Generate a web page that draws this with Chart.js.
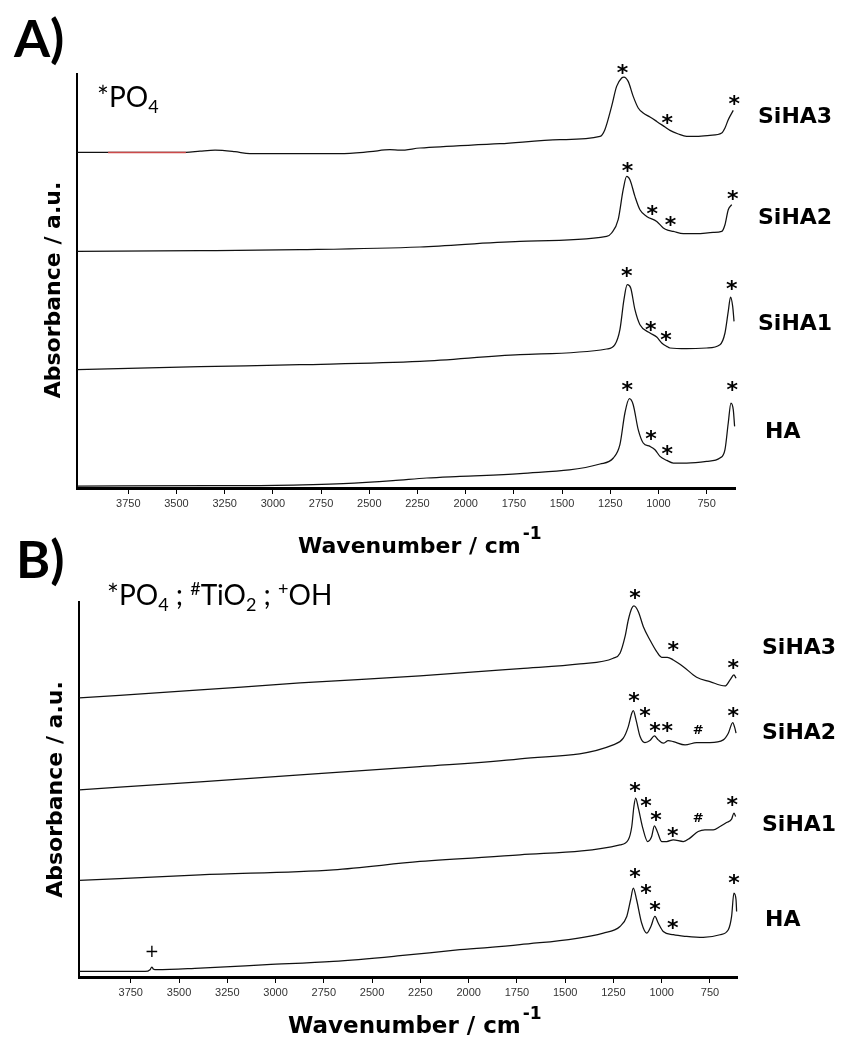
<!DOCTYPE html>
<html>
<head>
<meta charset="utf-8">
<title>FTIR spectra of HA and SiHA samples</title>
<script src="https://cdn.jsdelivr.net/npm/chart.js@4.4.1/dist/chart.umd.min.js"></script>
<style>
  html, body { margin: 0; padding: 0; background: #ffffff; }
  #wrap { position: relative; width: 844px; height: 1039px; overflow: hidden; }
  canvas { position: absolute; left: 0; top: 0; }
</style>
</head>
<body>
<div id="wrap">
  <canvas id="panelA" width="844" height="1039"></canvas>
  <canvas id="panelB" width="844" height="1039"></canvas>
</div>
<script>
// ---------- shared axis ticks (cm-1) ----------
const tickValues = [3750, 3500, 3250, 3000, 2750, 2500, 2250, 2000, 1750, 1500, 1250, 1000, 750];
const seriesNames = ['SiHA3', 'SiHA2', 'SiHA1', 'HA'];

// ---------- panel A spectra (wavenumber cm-1, absorbance a.u., offset-stacked) ----------
const aSiHA3Wn  = [4015,3855,3451,3378,3300,3197,3119,2860,2652,2496,2393,2341,2237,1822,1511,1303,1278,1243,1217,1191,1179,1157,1131,1105,1079,1044,1009,966,940,897,854,802,733,672,655,638,612];
const aSiHA3Abs = [3.356,3.356,3.356,3.368,3.378,3.363,3.343,3.343,3.343,3.363,3.383,3.378,3.40,3.443,3.483,3.516,3.583,3.816,4.016,4.10,4.11,4.066,3.916,3.80,3.75,3.71,3.666,3.61,3.576,3.54,3.516,3.516,3.526,3.55,3.60,3.683,3.776];

const aSiHA2Wn  = [4015,3378,2860,2237,1718,1269,1243,1209,1183,1165,1148,1122,1096,1061,1009,975,949,923,871,802,716,672,655,638,620];
const aSiHA2Abs = [2.366,2.373,2.383,2.41,2.467,2.516,2.55,2.683,2.983,3.116,3.083,2.916,2.783,2.716,2.666,2.60,2.576,2.566,2.543,2.543,2.556,2.566,2.633,2.783,2.833];

const aSiHA1Wn  = [4015,3378,2860,2237,1718,1269,1226,1200,1179,1162,1144,1122,1096,1044,1009,983,957,940,854,750,681,655,638,626,615,608];
const aSiHA1Abs = [1.183,1.213,1.233,1.266,1.333,1.39,1.433,1.583,1.883,2.033,2.00,1.783,1.633,1.55,1.51,1.45,1.416,1.40,1.393,1.40,1.433,1.55,1.766,1.91,1.816,1.666];

const aHAWn  = [4015,3325,3135,2792,2636,2377,2202,2030,1718,1303,1234,1200,1174,1151,1131,1105,1079,1044,1018,992,957,923,854,750,681,655,638,624,612,605];
const aHAAbs = [0.018,0.023,0.023,0.033,0.043,0.073,0.10,0.116,0.143,0.24,0.30,0.433,0.75,0.893,0.833,0.583,0.45,0.416,0.383,0.316,0.276,0.25,0.25,0.266,0.30,0.383,0.65,0.85,0.783,0.616];

// band markers for panel A
const aMarkWn  = [1186,954,607, 1160,1032,937,615, 1165,1040,961,620, 1162,1039,954,617];
const aMarkAbs = [4.19,3.693,3.876, 3.21,2.783,2.673,2.933, 2.156,1.623,1.516,2.033, 1.023,0.526,0.383,1.016];
const aMarkSym = ['*','*','*', '*','*','*','*', '*','*','*','*', '*','*','*','*'];
const aNameLevel = [3.703, 2.70, 1.633, 0.556];

// ---------- panel B spectra ----------
const bSiHA3Wn  = [4016,3391,2873,2252,1734,1423,1251,1216,1190,1173,1155,1144,1121,1095,1061,1026,1000,971,940,888,819,750,672,646,626,615];
const bSiHA3Abs = [2.793,2.873,2.943,3.013,3.086,3.133,3.19,3.24,3.406,3.573,3.69,3.713,3.656,3.506,3.373,3.256,3.20,3.20,3.173,3.106,3.00,2.956,2.913,2.973,3.023,2.99];

const bSiHA2Wn  = [4016,3391,2873,2252,1734,1251,1199,1173,1155,1147,1133,1112,1087,1061,1038,1018,992,966,940,879,819,750,681,655,632,621,615];
const bSiHA2Abs = [1.873,1.953,2.023,2.106,2.183,2.323,2.39,2.506,2.64,2.666,2.573,2.406,2.346,2.366,2.413,2.373,2.34,2.366,2.356,2.323,2.346,2.346,2.373,2.44,2.546,2.49,2.44];

const bSiHA1Wn  = [4016,3391,2701,2252,1734,1216,1173,1155,1144,1135,1121,1098,1073,1052,1038,1023,1000,974,940,888,854,811,776,733,698,664,638,626,617];
const bSiHA1Abs = [0.966,1.023,1.073,1.156,1.223,1.323,1.373,1.506,1.706,1.79,1.69,1.49,1.356,1.406,1.513,1.456,1.356,1.356,1.373,1.356,1.39,1.456,1.473,1.473,1.506,1.546,1.58,1.64,1.606];

const bHAWn  = [4016,3676,3650,3641,3632,3615,3391,3045,2701,2355,2045,1734,1302,1216,1181,1161,1147,1130,1104,1078,1056,1035,1018,992,940,871,785,698,655,638,626,615,612];
const bHAAbs = [0.056,0.056,0.073,0.10,0.078,0.073,0.09,0.123,0.156,0.213,0.273,0.323,0.44,0.506,0.606,0.773,0.89,0.773,0.54,0.44,0.506,0.606,0.54,0.456,0.423,0.406,0.396,0.423,0.473,0.606,0.84,0.773,0.656];

// band markers for panel B (* PO4, # TiO2, + OH)
const bMarkWn  = [1138,940,629, 1144,1087,1035,971,811,629, 1138,1081,1030,943,811,634, 1138,1081,1035,943,626,3641];
const bMarkAbs = [3.833,3.313,3.133, 2.80,2.656,2.506,2.506,2.473,2.656, 1.906,1.756,1.613,1.456,1.60,1.763, 1.04,0.88,0.706,0.533,0.98,0.256];
const bMarkSym = ['*','*','*', '*','*','*','*','#','*', '*','*','*','*','#','*', '*','*','*','*','*','+'];
const bNameLevel = [3.293, 2.44, 1.523, 0.563];

// ---------- drawing helpers ----------
const W = 844, H = 1039;
const BOLD_SANS = '"DejaVu Sans", Verdana, sans-serif';

function drawRich(ctx, segs, x, y, size) {
  ctx.textAlign = 'left';
  ctx.textBaseline = 'alphabetic';
  segs.forEach(([t, k]) => {
    const fs = k === 'n' ? size : Math.round(size * 0.64);
    ctx.font = fs + 'px Lato, "Open Sans", sans-serif';
    const dy = k === 'sub' ? size * 0.2 : (k === 'sup' ? -size * 0.36 : 0);
    ctx.fillText(t, x, y + dy);
    x += ctx.measureText(t).width;
  });
}

function markFont(sym) {
  if (sym === '#') return 'bold 13px ' + BOLD_SANS;
  if (sym === '+') return '17px ' + BOLD_SANS;
  return 'bold 22px ' + BOLD_SANS;
}

function makeDecor(cfg) {
  return {
    id: 'decor' + cfg.letter,
    afterDraw(chart) {
      const ctx = chart.ctx;
      const xs = chart.scales.x, ys = chart.scales.y, ca = chart.chartArea;
      ctx.save();
      ctx.fillStyle = '#000';

      // panel letter
      ctx.font = 'bold 52px Lato, sans-serif';
      ctx.textAlign = 'left';
      ctx.textBaseline = 'alphabetic';
      ctx.fillText(cfg.letter + ')', cfg.letterPos[0], cfg.letterPos[1]);

      // band legend
      drawRich(ctx, cfg.note, cfg.notePos[0], cfg.notePos[1], 28);

      // sample names on the right
      ctx.font = 'bold 22px ' + BOLD_SANS;
      ctx.textAlign = 'left';
      ctx.textBaseline = 'middle';
      seriesNames.forEach((n, i) => {
        ctx.fillText(n, ca.right + cfg.nameIndent[i], ys.getPixelForValue(cfg.nameLevel[i]));
      });

      // band markers
      ctx.textAlign = 'center';
      ctx.textBaseline = 'alphabetic';
      cfg.markWn.forEach((w, i) => {
        const s = cfg.markSym[i];
        ctx.font = markFont(s);
        const m = ctx.measureText(s);
        const px = xs.getPixelForValue(w);
        const py = ys.getPixelForValue(cfg.markAbs[i]);
        ctx.fillText(s, px, py + (m.actualBoundingBoxAscent - m.actualBoundingBoxDescent) / 2);
      });

      // y axis title
      ctx.save();
      ctx.translate(ca.left - 23, (ca.top + ca.bottom) / 2 + cfg.yTitleShift);
      ctx.rotate(-Math.PI / 2);
      ctx.font = 'bold 22px ' + BOLD_SANS;
      ctx.textAlign = 'center';
      ctx.textBaseline = 'middle';
      ctx.fillText('Absorbance / a.u.', 0, 0);
      ctx.restore();

      // x axis title with superscript
      ctx.textAlign = 'left';
      ctx.textBaseline = 'alphabetic';
      ctx.font = 'bold ' + cfg.xTitleSize + 'px ' + BOLD_SANS;
      const main = 'Wavenumber / cm';
      ctx.fillText(main, cfg.xTitlePos[0], cfg.xTitlePos[1]);
      const mw = ctx.measureText(main).width;
      ctx.font = 'bold 17px ' + BOLD_SANS;
      ctx.fillText('-1', cfg.xTitlePos[0] + mw + 2, cfg.xTitlePos[1] - 14);

      ctx.restore();
    }
  };
}

function series(wn, abs, color, width, order) {
  return {
    data: wn.map((w, i) => ({ x: w, y: abs[i] })),
    borderColor: color || '#111111',
    borderWidth: width || 1.25,
    pointRadius: 0,
    fill: false,
    cubicInterpolationMode: 'monotone',
    clip: false,
    order: order || 0
  };
}

function buildChart(id, cfg) {
  return new Chart(document.getElementById(id), {
    type: 'line',
    data: { datasets: cfg.datasets },
    options: {
      responsive: false,
      animation: false,
      devicePixelRatio: 1,
      events: [],
      layout: {
        padding: { left: 0, top: cfg.area.top, right: W - cfg.area.right, bottom: H - cfg.area.bottom - 30 }
      },
      plugins: { legend: { display: false }, tooltip: { enabled: false } },
      scales: {
        x: {
          type: 'linear',
          reverse: true,
          min: cfg.xMin,
          max: cfg.xMax,
          afterBuildTicks: s => { s.ticks = tickValues.map(v => ({ value: v })); },
          afterFit: s => { s.height = 30; },
          ticks: {
            callback: v => String(v),
            font: { family: '"Liberation Sans", Arial, sans-serif', size: 11 },
            color: '#333333',
            padding: 3,
            maxRotation: 0,
            autoSkip: false
          },
          grid: { display: true, drawOnChartArea: false, drawTicks: true, tickLength: 6, color: '#000000', lineWidth: 1 },
          border: { display: true, color: '#000000', width: 3 }
        },
        y: {
          type: 'linear',
          min: 0,
          max: cfg.yMax,
          ticks: { display: false },
          grid: { display: false },
          border: { display: true, color: '#000000', width: 2 },
          afterFit: s => { s.width = cfg.area.left; }
        }
      }
    },
    plugins: [makeDecor(cfg)]
  });
}

// ---------- panel A ----------
buildChart('panelA', {
  letter: 'A',
  letterPos: [14, 57],
  note: [['*', 'n'], ['PO', 'n'], ['4', 'sub']],
  notePos: [97, 107],
  area: { left: 77, right: 735, top: 74, bottom: 488 },
  xMin: 603, xMax: 4016, yMax: 4.14,
  yTitleShift: 9,
  xTitlePos: [298, 553], xTitleSize: 22,
  nameIndent: [23, 23, 23, 30],
  nameLevel: aNameLevel,
  markWn: aMarkWn, markAbs: aMarkAbs, markSym: aMarkSym,
  datasets: [
    series(aSiHA3Wn, aSiHA3Abs),
    // highlighted stretch of the SiHA3 baseline
    series(aSiHA3Wn.slice(1, 3), aSiHA3Abs.slice(1, 3), '#cc4a4a', 1.5, -1),
    series(aSiHA2Wn, aSiHA2Abs),
    series(aSiHA1Wn, aSiHA1Abs),
    series(aHAWn, aHAAbs)
  ]
});

// ---------- panel B ----------
buildChart('panelB', {
  letter: 'B',
  letterPos: [16, 578],
  note: [['*', 'n'], ['PO', 'n'], ['4', 'sub'], [' ; ', 'n'], ['#', 'sup'], ['TiO', 'n'], ['2', 'sub'], [' ; ', 'n'], ['+', 'sup'], ['OH', 'n']],
  notePos: [107, 605],
  area: { left: 79, right: 737, top: 602, bottom: 977 },
  xMin: 610, xMax: 4018, yMax: 3.753,
  yTitleShift: 0,
  xTitlePos: [288, 1033], xTitleSize: 23,
  nameIndent: [25, 25, 25, 28],
  nameLevel: bNameLevel,
  markWn: bMarkWn, markAbs: bMarkAbs, markSym: bMarkSym,
  datasets: [
    series(bSiHA3Wn, bSiHA3Abs),
    series(bSiHA2Wn, bSiHA2Abs),
    series(bSiHA1Wn, bSiHA1Abs),
    series(bHAWn, bHAAbs)
  ]
});
</script>
</body>
</html>
